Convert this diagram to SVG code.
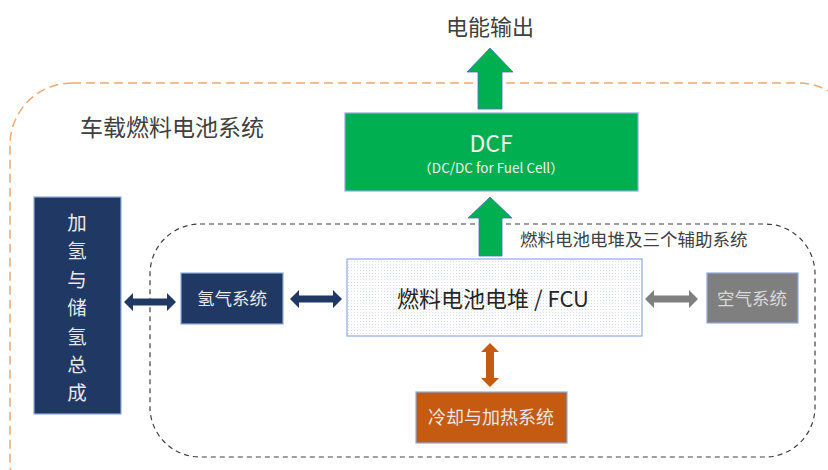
<svg xmlns="http://www.w3.org/2000/svg" width="828" height="470" viewBox="0 0 828 470">
<defs>
<pattern id="dots" width="3" height="3" patternUnits="userSpaceOnUse"><rect width="3" height="3" fill="#fff"/><rect width="1" height="1" fill="#d8dce6"/></pattern>
<style>
text{font-family:"Noto Sans CJK SC","Noto Sans",sans-serif;}
.box{stroke:#8faadc;stroke-width:1.2;}
.lt{fill:#e8e8e8;text-anchor:middle;}
.dk{fill:#404040;}
</style>
</defs>
<rect x="10" y="83" width="850" height="440" rx="62" fill="none" stroke="#eeaa70" stroke-width="1.5" stroke-dasharray="9,5"/>
<rect x="150" y="224" width="665" height="233" rx="50" fill="none" stroke="#404040" stroke-width="1.2" stroke-dasharray="5,4"/>
<text x="80" y="136" class="dk" font-size="23">车载燃料电池系统</text>
<text x="520" y="246" class="dk" font-size="17.5">燃料电池电堆及三个辅助系统</text>
<text x="490" y="35" class="dk" font-size="22" text-anchor="middle">电能输出</text>

<g id="connectors">
<polygon points="478,109 478,72 467,72 490,48 513,72 502,72 502,109" fill="#00b050" stroke="#4472c4" stroke-width="0.8"/>
<polygon points="479,256 479,218 468,218 490,197 512,218 502,218 502,256" fill="#00b050" stroke="#4472c4" stroke-width="0.8"/>
<polygon points="124,302 133,293 133,298.5 167,298.5 167,293 176,302 167,311 167,305.5 133,305.5 133,311" fill="#203864"/>
<polygon points="290,299 299,290 299,295.5 333,295.5 333,290 342,299 333,308 333,302.5 299,302.5 299,308" fill="#203864"/>
<polygon points="645,299 654,290 654,295.5 689,295.5 689,290 698,299 689,308 689,302.5 654,302.5 654,308" fill="#7f7f7f"/>
<polygon points="490,343 499,352 494,352 494,378 499,378 490,387 481,378 486,378 486,352 481,352" fill="#c55a11"/>
</g>

<g id="dcf">
<rect x="345" y="113" width="293" height="78" fill="#00b050" class="box"/>
<text x="491" y="152" fill="#f2f2f2" font-size="23" text-anchor="middle">DCF</text>
<text x="491" y="173" fill="#f2f2f2" font-size="13.5" text-anchor="middle">（DC/DC for Fuel Cell）</text>
</g>
<g id="fcu">
<rect x="347" y="259" width="295" height="77" fill="url(#dots)" class="box"/>
<text x="493" y="307" fill="#262626" font-size="22" text-anchor="middle">燃料电池电堆 / FCU</text>
</g>
<g id="h2store">
<rect x="34" y="197" width="87" height="217" fill="#203864" class="box"/>
<text x="77" y="230" class="lt" font-size="19.5"><tspan x="77">加</tspan><tspan x="77" dy="28.4">氢</tspan><tspan x="77" dy="28.4">与</tspan><tspan x="77" dy="28.4">储</tspan><tspan x="77" dy="28.4">氢</tspan><tspan x="77" dy="28.4">总</tspan><tspan x="77" dy="28.4">成</tspan></text>
</g>
<g id="h2sys">
<rect x="181" y="273" width="102" height="51" fill="#203864" class="box"/>
<text x="232" y="305" class="lt" font-size="17.5">氢气系统</text>
</g>
<g id="air">
<rect x="707" y="273" width="91" height="50" fill="#7f7f7f" class="box"/>
<text x="752" y="305" class="lt" font-size="17.5" style="fill:#d9d9d9">空气系统</text>
</g>
<g id="cool">
<rect x="416" y="392" width="151" height="51" fill="#c55a11" class="box"/>
<text x="491" y="424" class="lt" font-size="18">冷却与加热系统</text>
</g>
</svg>
